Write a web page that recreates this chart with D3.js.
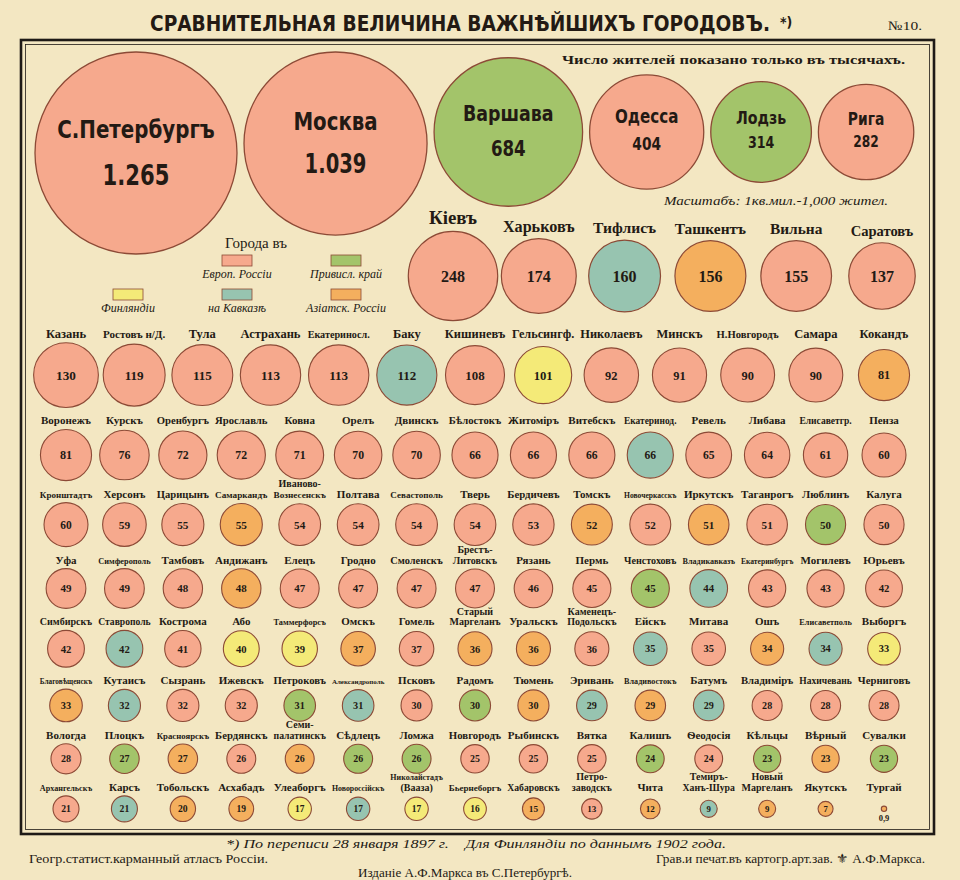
<!DOCTYPE html>
<html><head><meta charset="utf-8">
<script src="https://cdn.jsdelivr.net/npm/d3@7"></script>
<style>
body{margin:0;background:#F3E7C2;}
svg{display:block;}
</style></head><body>
<svg id="chart" width="960" height="880"></svg>
<script>
// ---------------- DATA ----------------
const regionKeys  = ["E","V","F","K","A"];
const regionNames = ["Европ. Россіи","Привисл. край","Финляндіи","на Кавказѣ","Азіатск. Россіи"];

const row1Names   = ["С.Петербургъ","Москва","Варшава","Одесса","Лодзь","Рига"];
const row1Values  = [1265,1039,684,404,314,282];
const row1Regions = ["E","E","V","E","V","E"];

const row2Names   = ["Кіевъ","Харьковъ","Тифлисъ","Ташкентъ","Вильна","Саратовъ"];
const row2Values  = [248,174,160,156,155,137];
const row2Regions = ["E","E","K","A","E","E"];

const row3Names   = ["Казань","Ростовъ н/Д.","Тула","Астрахань","Екатериносл.","Баку","Кишиневъ","Гельсингф.","Николаевъ","Минскъ","Н.Новгородъ","Самара","Кокандъ"];
const row3Values  = [130,119,115,113,113,112,108,101,92,91,90,90,81];
const row3Regions = ["E","E","E","E","E","K","E","F","E","E","E","E","A"];

const row4Names   = ["Воронежъ","Курскъ","Оренбургъ","Ярославль","Ковна","Орелъ","Двинскъ","Бѣлостокъ","Житоміръ","Витебскъ","Екатеринод.","Ревель","Либава","Елисаветгр.","Пенза"];
const row4Values  = [81,76,72,72,71,70,70,66,66,66,66,65,64,61,60];
const row4Regions = ["E","E","E","E","E","E","E","E","E","E","K","E","E","E","E"];

const row5Names   = ["Кронштадтъ","Херсонъ","Царицынъ","Самаркандъ","Иваново-|Вознесенскъ","Полтава","Севастополь","Тверь","Бердичевъ","Томскъ","Новочеркасскъ","Иркутскъ","Таганрогъ","Люблинъ","Калуга"];
const row5Values  = [60,59,55,55,54,54,54,54,53,52,52,51,51,50,50];
const row5Regions = ["E","E","E","A","E","E","E","E","E","A","E","A","E","V","E"];

const row6Names   = ["Уфа","Симферополь","Тамбовъ","Андижанъ","Елецъ","Гродно","Смоленскъ","Брестъ-|Литовскъ","Рязань","Пермь","Ченстоховъ","Владикавказъ","Екатеринбургъ","Могилевъ","Юрьевъ"];
const row6Values  = [49,49,48,48,47,47,47,47,46,45,45,44,43,43,42];
const row6Regions = ["E","E","E","A","E","E","E","E","E","E","V","K","E","E","E"];

const row7Names   = ["Симбирскъ","Ставрополь","Кострома","Або","Таммерфорсъ","Омскъ","Гомель","Старый|Маргеланъ","Уральскъ","Каменецъ-|Подольскъ","Ейскъ","Митава","Ошъ","Елисаветполь","Выборгъ"];
const row7Values  = [42,42,41,40,39,37,37,36,36,36,35,35,34,34,33];
const row7Regions = ["E","K","E","F","F","A","E","A","A","E","K","E","A","K","F"];

const row8Names   = ["Благовѣщенскъ","Кутаисъ","Сызрань","Ижевскъ","Петроковъ","Александрополь","Псковъ","Радомъ","Тюмень","Эривань","Владивостокъ","Батумъ","Владиміръ","Нахичевань","Черниговъ"];
const row8Values  = [33,32,32,32,31,31,30,30,30,29,29,29,28,28,28];
const row8Regions = ["A","K","E","E","V","K","E","V","A","K","A","K","E","E","E"];

const row9Names   = ["Вологда","Плоцкъ","Красноярскъ","Бердянскъ","Семи-|палатинскъ","Сѣдлецъ","Ломжа","Новгородъ","Рыбинскъ","Вятка","Калишъ","Ѳеодосія","Кѣльцы","Вѣрный","Сувалки"];
const row9Values  = [28,27,27,26,26,26,26,25,25,25,24,24,23,23,23];
const row9Regions = ["E","V","A","E","A","V","V","E","E","E","V","E","V","A","V"];

const row10Names   = ["Архангельскъ","Карсъ","Тобольскъ","Асхабадъ","Улеаборгъ","Новороссійскъ","Николайстадъ|(Вааза)","Бьернеборгъ","Хабаровскъ","Петро-|заводскъ","Чита","Темиръ-|Ханъ-Шура","Новый|Маргеланъ","Якутскъ","Тургай"];
const row10Values  = [21,21,20,19,17,17,17,16,15,13,12,9,9,7,0.9];
const row10Regions = ["E","K","A","A","F","K","F","F","A","E","A","K","A","A","A"];

// ---------------- STYLE / LAYOUT ----------------
const regionColors = ["#F6A98D","#A3C46A","#F4EA78","#97C4B0","#F4AF5E"];
const BG = "#F3E7C2", INK = "#231a14", STROKE = "#8c4a36";
const SERIF = "'Liberation Serif','DejaVu Serif',serif";
const NARROW = "'Liberation Sans Narrow','DejaVu Sans Condensed','Liberation Sans',sans-serif";

const W = 960, H = 880;
const svg = d3.select("#chart");
svg.append("rect").attr("width",W).attr("height",H).attr("fill",BG);

const color = d3.scaleOrdinal().domain(regionKeys).range(regionColors);
const rScale = d3.scaleSqrt().domain([0,1265]).range([0,101]);
const locale = d3.formatLocale({decimal:",",thousands:".",grouping:[3],currency:["",""]});
const fmt = locale.format(",");

// shrink the font size until the text fits the given width
function fitSize(sel, maxW){
  sel.each(function(){
    const t = d3.select(this);
    const w = this.getComputedTextLength();
    if (w > maxW) {
      const fs = parseFloat(t.attr("font-size"));
      t.attr("font-size", (fs * maxW / w).toFixed(2));
    }
  });
}
function condense(sel, factor){
  sel.each(function(){
    const w = this.getComputedTextLength();
    d3.select(this).attr("textLength", w*factor).attr("lengthAdjust","spacingAndGlyphs");
  });
}
function makeRow(names, values, regions){
  return names.map((n,i)=>({name:n, value:values[i], region:regions[i], r:rScale(values[i])}));
}

// frame
svg.append("rect").attr("x",21).attr("y",40).attr("width",913).attr("height",794)
  .attr("fill","none").attr("stroke","#1e1a16").attr("stroke-width",2.6);
svg.append("rect").attr("x",25.5).attr("y",44.5).attr("width",904).attr("height",785)
  .attr("fill","none").attr("stroke","#1e1a16").attr("stroke-width",0.8);

// title
svg.append("text").attr("x",150).attr("y",31).attr("font-family",NARROW).attr("font-weight","bold")
  .attr("font-size",21).attr("fill",INK).attr("textLength",620).attr("lengthAdjust","spacingAndGlyphs")
  .text("СРАВНИТЕЛЬНАЯ  ВЕЛИЧИНА  ВАЖНѢЙШИХЪ  ГОРОДОВЪ.");
svg.append("text").attr("x",780).attr("y",27).attr("font-family",NARROW).attr("font-weight","bold")
  .attr("font-size",14).attr("fill",INK).text("*)");
svg.append("text").attr("x",888).attr("y",30).attr("font-family",SERIF).attr("font-size",13)
  .attr("fill",INK).attr("textLength",34).attr("lengthAdjust","spacingAndGlyphs").text("№10.");

svg.append("text").attr("x",562).attr("y",64).attr("font-family",SERIF).attr("font-weight","bold")
  .attr("font-size",13).attr("fill",INK).attr("textLength",343).attr("lengthAdjust","spacingAndGlyphs")
  .text("Число жителей показано только въ тысячахъ.");
svg.append("text").attr("x",664).attr("y",205).attr("font-family",SERIF).attr("font-style","italic")
  .attr("font-size",12).attr("fill",INK).attr("textLength",224).attr("lengthAdjust","spacingAndGlyphs")
  .text("Масштабъ: 1кв.мил.-1,000 жител.");

// ---------------- ROW 1 (packed) ----------------
const row1 = makeRow(row1Names,row1Values,row1Regions);
let px = 35;
row1.forEach(d=>{ d.cx = px + d.r; px += 2*d.r + 7; d.cy = Math.max(132, 52 + d.r); });
const nameFont1 = d3.scaleLinear().domain([47,101]).range([17,26]);
const valFont1  = d3.scaleLinear().domain([47,101]).range([16,28]);
const g1 = svg.append("g").selectAll("g").data(row1).join("g");
g1.append("circle").attr("cx",d=>d.cx).attr("cy",d=>d.cy).attr("r",d=>d.r)
  .attr("fill",d=>color(d.region)).attr("stroke",STROKE).attr("stroke-width",1.3);
g1.append("text").attr("x",d=>d.cx).attr("y",d=>d.cy-0.15*d.r).attr("text-anchor","middle")
  .attr("font-family",NARROW).attr("font-weight","bold").attr("font-size",d=>nameFont1(d.r))
  .attr("fill",INK).text(d=>d.name).call(fitSize, 175).call(condense, 0.9);
g1.append("text").attr("x",d=>d.cx).attr("y",d=>d.cy+0.32*d.r).attr("text-anchor","middle")
  .attr("font-family",NARROW).attr("font-weight","bold").attr("font-size",d=>valFont1(d.r))
  .attr("fill",INK).text(d=>fmt(d.value)).call(condense, 0.84);

// ---------------- ROW 2 ----------------
const row2 = makeRow(row2Names,row2Values,row2Regions);
const x2 = d3.scalePoint().domain(row2.map(d=>d.name)).range([453,882]);
const row2Y = 276;
row2.forEach(d=>{ d.cx = x2(d.name); d.cy = row2Y; });
const nameFont2 = d3.scaleLinear().domain([33,45]).range([14.5,19]);
const g2 = svg.append("g").selectAll("g").data(row2).join("g");
g2.append("circle").attr("cx",d=>d.cx).attr("cy",d=>d.cy).attr("r",d=>d.r)
  .attr("fill",d=>color(d.region)).attr("stroke",STROKE).attr("stroke-width",1.2);
g2.append("text").attr("x",d=>d.cx).attr("y",d=>d.cy-d.r-7).attr("text-anchor","middle")
  .attr("font-family",SERIF).attr("font-weight","bold").attr("font-size",d=>nameFont2(d.r))
  .attr("fill",INK).text(d=>d.name).call(fitSize, 82);
g2.append("text").attr("x",d=>d.cx).attr("y",d=>d.cy).attr("dy","0.36em").attr("text-anchor","middle")
  .attr("font-family",SERIF).attr("font-weight","bold").attr("font-size",16)
  .attr("fill",INK).text(d=>fmt(d.value));

// ---------------- ROWS 3-10 ----------------
const smallRows = [
  makeRow(row3Names,row3Values,row3Regions),
  makeRow(row4Names,row4Values,row4Regions),
  makeRow(row5Names,row5Values,row5Regions),
  makeRow(row6Names,row6Values,row6Regions),
  makeRow(row7Names,row7Values,row7Regions),
  makeRow(row8Names,row8Values,row8Regions),
  makeRow(row9Names,row9Values,row9Regions),
  makeRow(row10Names,row10Values,row10Regions)
];
const ROW_GAP = 22;
let prevCy = row2Y, prevR = d3.max(row2, d=>d.r);
const valFont = d3.scaleLinear().domain([7,31]).range([8.5,13.2]).clamp(true);
smallRows.forEach((row, ri)=>{
  const rMax = d3.max(row, d=>d.r);
  const cy = prevCy + prevR + ROW_GAP + rMax;
  prevCy = cy; prevR = rMax;
  const xs = d3.scalePoint().domain(d3.range(row.length)).range([66,884]);
  const step = xs.step();
  row.forEach((d,i)=>{ d.cx = xs(i); d.cy = cy; });
  const labelBase = cy - rMax - 5;
  const nameSize = ri===0 ? 12.5 : 11;
  const g = svg.append("g").selectAll("g").data(row).join("g");
  g.append("circle").attr("cx",d=>d.cx).attr("cy",d=>d.cy).attr("r",d=>d.r)
    .attr("fill",d=>color(d.region)).attr("stroke",STROKE).attr("stroke-width",1.1);
  g.each(function(d){
    const lines = d.name.split("|");
    const sel = d3.select(this);
    lines.forEach((ln,li)=>{
      sel.append("text").attr("x",d.cx).attr("y",labelBase - (lines.length-1-li)*10.5)
        .attr("text-anchor","middle").attr("font-family",SERIF).attr("font-weight","bold")
        .attr("font-size", lines.length>1 ? nameSize-1 : nameSize).attr("fill",INK)
        .text(ln).call(fitSize, step - 6);
    });
    if (d.r >= 5) {
      sel.append("text").attr("x",d.cx).attr("y",d.cy).attr("dy","0.36em").attr("text-anchor","middle")
        .attr("font-family",SERIF).attr("font-weight","bold").attr("font-size",valFont(d.r))
        .attr("fill",INK).text(fmt(d.value));
    } else {
      sel.append("text").attr("x",d.cx).attr("y",d.cy+d.r+9).attr("text-anchor","middle")
        .attr("font-family",SERIF).attr("font-weight","bold").attr("font-size",8.5)
        .attr("fill",INK).text(fmt(d.value));
    }
  });
});

// ---------------- LEGEND ----------------
const legendCols = d3.scalePoint().domain([0,1,2]).range([128,346]);
const legendPos = {E:[1,0],V:[2,0],F:[0,1],K:[1,1],A:[2,1]};
const legendRowTop = [255,289];
svg.append("text").attr("x",256).attr("y",248).attr("text-anchor","middle").attr("font-family",SERIF)
  .attr("font-size",15).attr("fill",INK).text("Города въ");
const lg = svg.append("g").selectAll("g").data(regionKeys).join("g");
lg.append("rect").attr("x",k=>legendCols(legendPos[k][0])-15).attr("y",k=>legendRowTop[legendPos[k][1]])
  .attr("width",30).attr("height",11).attr("fill",k=>color(k)).attr("stroke",STROKE).attr("stroke-width",0.8);
lg.append("text").attr("x",k=>legendCols(legendPos[k][0])).attr("y",k=>legendRowTop[legendPos[k][1]]+23)
  .attr("text-anchor","middle").attr("font-family",SERIF).attr("font-style","italic").attr("font-size",12)
  .attr("fill",INK).text((k,i)=>regionNames[i]).call(fitSize, 96);

// ---------------- FOOTER ----------------
svg.append("text").attr("x",226).attr("y",848).attr("font-family",SERIF).attr("font-style","italic")
  .attr("font-size",12).attr("fill",INK).attr("textLength",500).attr("lengthAdjust","spacingAndGlyphs")
  .attr("xml:space","preserve")
  .text("*) По переписи 28 января 1897 г.    Для Финляндіи по даннымъ 1902 года.");
svg.append("text").attr("x",29).attr("y",863).attr("font-family",SERIF).attr("font-size",12.5)
  .attr("fill",INK).attr("textLength",239).attr("lengthAdjust","spacingAndGlyphs")
  .text("Геогр.статист.карманный атласъ Россіи.");
svg.append("text").attr("x",925).attr("y",863).attr("text-anchor","end").attr("font-family",SERIF).attr("font-size",12.5)
  .attr("fill",INK).attr("textLength",269).attr("lengthAdjust","spacingAndGlyphs")
  .text("Грав.и печат.въ картогр.арт.зав. ⚜ А.Ф.Маркса.");
svg.append("text").attr("x",358).attr("y",877).attr("font-family",SERIF).attr("font-size",12.5)
  .attr("fill",INK).attr("textLength",214).attr("lengthAdjust","spacingAndGlyphs")
  .text("Изданіе А.Ф.Маркса въ С.Петербургѣ.");
</script>
</body></html>
